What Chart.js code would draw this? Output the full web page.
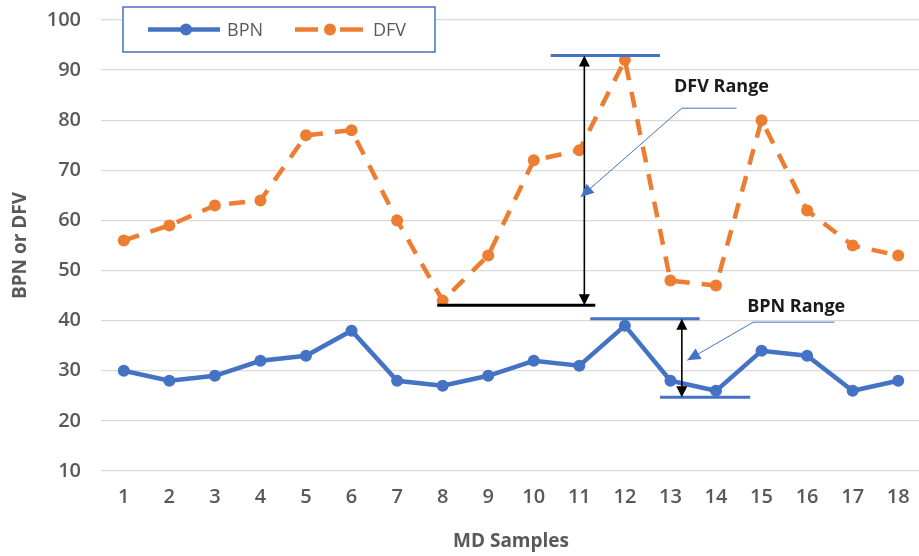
<!DOCTYPE html>
<html>
<head>
<meta charset="utf-8">
<script src="https://cdn.jsdelivr.net/npm/chart.js@4/dist/chart.umd.min.js"></script>
<style>
  html, body { margin: 0; padding: 0; background: #fff; overflow: hidden; }
  #wrap { position: relative; width: 927px; height: 556px; }
</style>
</head>
<body>
<div id="wrap"><canvas id="chart" width="927" height="556"></canvas></div>
<script>
// Sample numbers along the x axis
const samples = ['1','2','3','4','5','6','7','8','9','10','11','12','13','14','15','16','17','18'];
// BPN per sample
const bpn = [30, 28, 29, 32, 33, 38, 28, 27, 29, 32, 31, 39, 28, 26, 34, 33, 26, 28];
// DFV per sample
const dfv = [56, 59, 63, 64, 77, 78, 60, 44, 53, 72, 74, 92, 48, 47, 80, 62, 55, 53];
// Value axis ticks
const yTicks = [10, 20, 30, 40, 50, 60, 70, 80, 90, 100];

const BLUE = '#4472C4';
const ORANGE = '#ED7D31';
const GREY = '#595959';
const FONT = "'Open Sans', 'Liberation Sans', sans-serif";

function arrowHead(ctx, tipX, tipY, angle, len, half, color) {
  ctx.save();
  ctx.translate(tipX, tipY);
  ctx.rotate(angle);
  ctx.beginPath();
  ctx.moveTo(0, 0);
  ctx.lineTo(-len, -half);
  ctx.lineTo(-len, half);
  ctx.closePath();
  ctx.fillStyle = color;
  ctx.fill();
  ctx.restore();
}

function hLine(ctx, x1, x2, y, color, w) {
  ctx.beginPath();
  ctx.moveTo(x1, y);
  ctx.lineTo(x2, y);
  ctx.strokeStyle = color;
  ctx.lineWidth = w;
  ctx.setLineDash([]);
  ctx.stroke();
}

// Range brackets with callouts: positions are in category index / axis value units
const rangeNotes = {
  id: 'rangeNotes',
  afterDatasetsDraw(chart) {
    const ctx = chart.ctx;
    const xs = chart.scales.x, ys = chart.scales.y;
    const X = v => xs.getPixelForValue(v);
    const Y = v => ys.getPixelForValue(v);
    ctx.save();

    const notes = [
      {
        label: 'DFV Range',
        hi: Math.max(...dfv) + 0.9, lo: Math.min(...dfv) - 0.9,
        hiSpan: [9.37, 11.77], loSpan: [6.88, 10.35], loColor: '#000', loWidth: 3,
        arrowX: 10.11,
        text: [13.12, 86.6],
        leader: [[13.45, 82.4], [12.25, 82.4], [10.03, 64.7]]
      },
      {
        label: 'BPN Range',
        hi: Math.max(...bpn) + 1.4, lo: Math.min(...bpn) - 1.3,
        hiSpan: [10.24, 12.64], loSpan: [11.77, 13.75], loColor: BLUE, loWidth: 3,
        arrowX: 12.25,
        text: [14.76, 42.7],
        leader: [[15.6, 39.7], [13.82, 39.7], [12.37, 32.1]]
      }
    ];

    notes.forEach(n => {
      const yHi = Y(n.hi), yLo = Y(n.lo);
      hLine(ctx, X(n.hiSpan[0]), X(n.hiSpan[1]), yHi, BLUE, 3);
      hLine(ctx, X(n.loSpan[0]), X(n.loSpan[1]), yLo, n.loColor, n.loWidth);

      // double-headed span arrow
      const ax = X(n.arrowX);
      ctx.beginPath();
      ctx.moveTo(ax, yHi + 8);
      ctx.lineTo(ax, yLo - 8);
      ctx.strokeStyle = '#000';
      ctx.lineWidth = 1.6;
      ctx.stroke();
      arrowHead(ctx, ax, yHi, -Math.PI / 2, 11, 5.5, '#000');
      arrowHead(ctx, ax, yLo, Math.PI / 2, 11, 5.5, '#000');

      // callout leader
      const pts = n.leader.map(p => [X(p[0]), Y(p[1])]);
      ctx.beginPath();
      ctx.moveTo(pts[0][0], pts[0][1]);
      for (let i = 1; i < pts.length; i++) ctx.lineTo(pts[i][0], pts[i][1]);
      ctx.strokeStyle = BLUE;
      ctx.lineWidth = 1;
      ctx.stroke();
      const a = pts[pts.length - 2], b = pts[pts.length - 1];
      arrowHead(ctx, b[0], b[1], Math.atan2(b[1] - a[1], b[0] - a[0]), 13, 6, BLUE);

      ctx.font = `bold 18px ${FONT}`;
      ctx.fillStyle = '#1a1a1a';
      ctx.textAlign = 'center';
      ctx.textBaseline = 'middle';
      ctx.fillText(n.label, X(n.text[0]), Y(n.text[1]));
    });
    ctx.restore();
  }
};

// Boxed legend sitting over the top of the plot
const boxLegend = {
  id: 'boxLegend',
  afterDraw(chart) {
    const ctx = chart.ctx;
    const ca = chart.chartArea;
    const bx = ca.left + 22, by = ca.top - 13, bw = 312, bh = 45;
    const cy = by + bh / 2;
    ctx.save();
    ctx.fillStyle = '#fff';
    ctx.fillRect(bx, by, bw, bh);
    ctx.strokeStyle = BLUE;
    ctx.lineWidth = 1.5;
    ctx.strokeRect(bx, by, bw, bh);

    const entries = [
      { ds: chart.data.datasets[0], x0: bx + 25, x1: bx + 97, dot: bx + 63, tx: bx + 104 },
      { ds: chart.data.datasets[1], x0: bx + 172, x1: bx + 240, dot: bx + 207, tx: bx + 250 }
    ];
    entries.forEach(e => {
      ctx.beginPath();
      ctx.moveTo(e.x0, cy);
      ctx.lineTo(e.x1, cy);
      ctx.strokeStyle = e.ds.borderColor;
      ctx.lineWidth = e.ds.borderWidth;
      ctx.setLineDash(e.ds.borderDash ? [23, 22] : []);
      ctx.stroke();
      ctx.setLineDash([]);
      ctx.beginPath();
      ctx.arc(e.dot, cy, e.ds.pointRadius, 0, Math.PI * 2);
      ctx.fillStyle = e.ds.borderColor;
      ctx.fill();
      ctx.font = `18px ${FONT}`;
      ctx.fillStyle = GREY;
      ctx.textAlign = 'left';
      ctx.textBaseline = 'middle';
      ctx.fillText(e.ds.label, e.tx, cy + 1);
    });
    ctx.restore();
  }
};

new Chart(document.getElementById('chart'), {
  type: 'line',
  data: {
    labels: samples,
    datasets: [
      {
        label: 'BPN', data: bpn,
        borderColor: BLUE, backgroundColor: BLUE,
        borderWidth: 4.5, pointRadius: 6, pointBorderWidth: 0,
        pointBackgroundColor: BLUE, tension: 0
      },
      {
        label: 'DFV', data: dfv,
        borderColor: ORANGE, backgroundColor: ORANGE,
        borderWidth: 4.5, borderDash: [16, 12], pointRadius: 6, pointBorderWidth: 0,
        pointBackgroundColor: ORANGE, tension: 0
      }
    ]
  },
  options: {
    responsive: false,
    animation: false,
    devicePixelRatio: 1,
    layout: { padding: { top: 20, right: 1, left: 0, bottom: 0 } },
    plugins: { legend: { display: false }, tooltip: { enabled: false } },
    scales: {
      x: {
        type: 'category',
        offset: true,
        grid: { display: false, drawTicks: false },
        border: { display: false },
        ticks: { color: GREY, font: { family: FONT, size: 20, weight: '600' }, padding: 14 },
        title: { display: true, text: 'MD Samples', color: GREY,
                 font: { family: FONT, size: 19, weight: 'bold' }, padding: { top: 0, bottom: 3 } },
        afterFit(s) { s.height = 85; }
      },
      y: {
        min: yTicks[0], max: yTicks[yTicks.length - 1],
        afterBuildTicks(s) { s.ticks = yTicks.map(v => ({ value: v })); },
        grid: { color: '#D9D9D9', lineWidth: 1.3, drawTicks: true, tickLength: 20, tickColor: 'rgba(0,0,0,0)' },
        border: { display: false },
        ticks: { color: GREY, font: { family: FONT, size: 20, weight: '600' }, padding: 0 },
        title: { display: true, text: 'BPN or DFV', color: GREY,
                 font: { family: FONT, size: 19, weight: 'bold' }, padding: { top: 9, bottom: 0 } },
        afterFit(s) { s.width = 101; }
      }
    }
  },
  plugins: [rangeNotes, boxLegend]
});
</script>
</body>
</html>
